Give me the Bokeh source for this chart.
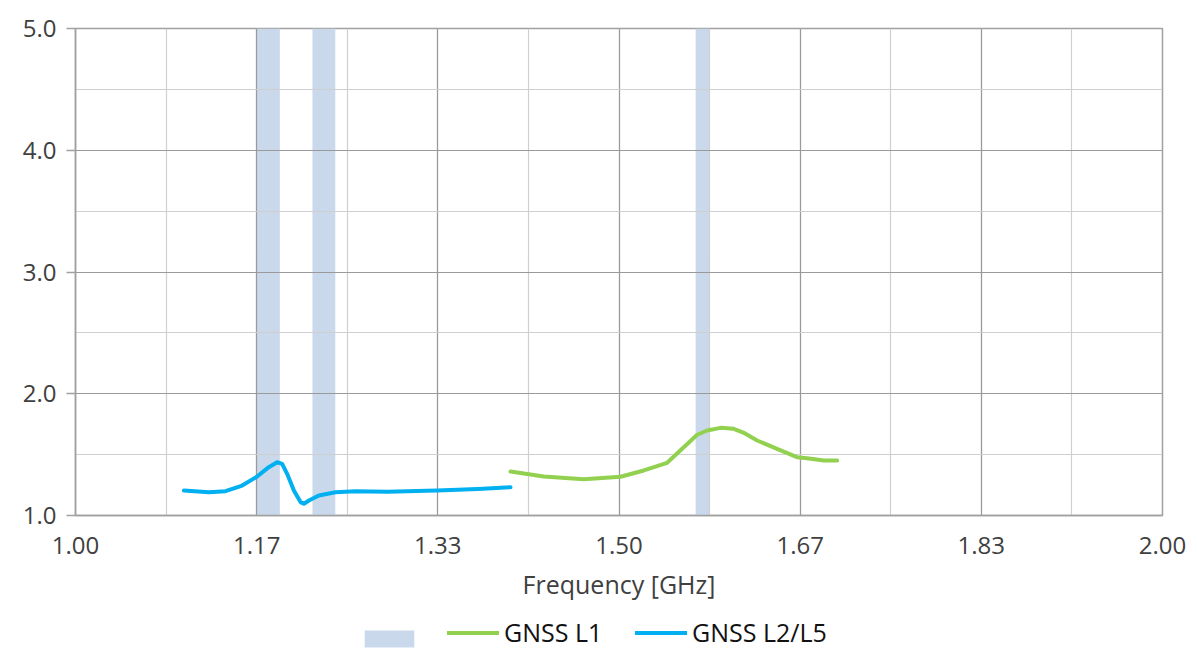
from bokeh.plotting import figure
from bokeh.layouts import column
from bokeh.models import Range1d, FixedTicker, Legend, LegendItem, ColumnDataSource
from bokeh.embed import file_html
from bokeh.resources import INLINE

# ---- data ----
band_left = [1.1665, 1.2180, 1.5705]
band_right = [1.1880, 1.2390, 1.5835]

l25_freq = [1.0997, 1.1227, 1.1380, 1.1533, 1.1671, 1.1778, 1.1855, 1.1901, 1.1947, 1.2009,
            1.2070, 1.2101, 1.2147, 1.2239, 1.2392, 1.2576, 1.2868, 1.3327, 1.3700, 1.4002]
l25_vswr = [1.205, 1.191, 1.200, 1.246, 1.320, 1.397, 1.438, 1.424, 1.342, 1.205,
            1.110, 1.096, 1.123, 1.164, 1.191, 1.200, 1.195, 1.205, 1.218, 1.233]

l1_freq = [1.4002, 1.4308, 1.4676, 1.5014, 1.5228, 1.5443, 1.5581, 1.5719, 1.5811, 1.5934,
           1.6056, 1.6148, 1.6271, 1.6454, 1.6638, 1.6730, 1.6884, 1.7007]
l1_vswr = [1.361, 1.320, 1.298, 1.318, 1.370, 1.433, 1.548, 1.663, 1.698, 1.720,
           1.712, 1.679, 1.616, 1.548, 1.479, 1.471, 1.452, 1.452]

x_ticks = [1.0, 7/6, 4/3, 1.5, 5/3, 11/6, 2.0]
x_tick_labels = ["1.00", "1.17", "1.33", "1.50", "1.67", "1.83", "2.00"]
x_minor = [1.0 + i / 12 for i in range(13)]
y_ticks = [1.0, 2.0, 3.0, 4.0, 5.0]
y_tick_labels = ["1.0", "2.0", "3.0", "4.0", "5.0"]
y_minor = [1.5, 2.5, 3.5, 4.5]

series_names = ["GNSS L1", "GNSS L2/L5"]
series_colors = ["#92d050", "#00b0f0"]
band_color = "#c9d9eb"

FONT = "Open Sans"
AXIS_GRAY = "#a0a0a0"
W = 1189

p = figure(width=W, height=609, output_backend="svg", toolbar_location=None,
           x_range=Range1d(1.0, 2.0), y_range=Range1d(1.0, 5.0),
           min_border_left=75, min_border_top=28, min_border_right=27, min_border_bottom=94)

p.outline_line_color = AXIS_GRAY
p.outline_line_width = 1.5

# bands
band_src = ColumnDataSource(dict(left=band_left, right=band_right,
                                 bottom=[1.0] * len(band_left), top=[5.0] * len(band_left)))
p.quad(left="left", right="right", bottom="bottom", top="top", source=band_src,
       fill_color=band_color, line_color=None, level="image")

p.line(l1_freq, l1_vswr, line_color=series_colors[0], line_width=4, line_cap="round", line_join="round")
p.line(l25_freq, l25_vswr, line_color=series_colors[1], line_width=4, line_cap="round", line_join="round")

# axes
p.xaxis.ticker = FixedTicker(ticks=x_ticks, minor_ticks=x_minor)
p.xaxis.major_label_overrides = {t: s for t, s in zip(x_ticks, x_tick_labels)}
p.yaxis.ticker = FixedTicker(ticks=y_ticks, minor_ticks=y_minor)
p.yaxis.major_label_overrides = {t: s for t, s in zip(y_ticks, y_tick_labels)}

for ax in (p.xaxis[0], p.yaxis[0]):
    ax.axis_line_color = AXIS_GRAY
    ax.axis_line_width = 1.5
    ax.major_tick_line_color = AXIS_GRAY
    ax.major_tick_line_width = 1.5
    ax.major_tick_in = 0
    ax.minor_tick_line_color = None
    ax.major_label_text_font = FONT
    ax.major_label_text_font_size = "24px"
    ax.major_label_text_color = "#404040"

p.xaxis.major_tick_out = 0
p.xaxis.major_label_standoff = 17
p.yaxis.major_tick_out = 9
p.yaxis.major_label_standoff = 10

p.xaxis.axis_label = "Frequency [GHz]"
p.xaxis.axis_label_text_font = FONT
p.xaxis.axis_label_text_font_size = "25px"
p.xaxis.axis_label_text_font_style = "normal"
p.xaxis.axis_label_text_color = "#404040"
p.xaxis.axis_label_standoff = 10

# grids
p.xgrid.ticker = FixedTicker(ticks=x_ticks, minor_ticks=x_minor)
p.ygrid.ticker = FixedTicker(ticks=y_ticks, minor_ticks=y_minor)
for g in (p.xgrid[0], p.ygrid[0]):
    g.grid_line_color = "#9a9a9a"
    g.grid_line_width = 1.2
    g.minor_grid_line_color = "#cfcfcf"
    g.minor_grid_line_width = 1.2

# legend strip (separate figure below the chart, with style-only renderers outside its range)
lg = figure(width=W, height=40, output_backend="svg", toolbar_location=None,
            x_range=Range1d(0, 1), y_range=Range1d(0, 1),
            x_axis_location=None, y_axis_location=None,
            min_border=0, outline_line_color=None)
lg.xgrid.visible = False
lg.ygrid.visible = False
r_band = lg.quad(left=[-5], right=[-4], bottom=[-5], top=[-4], fill_color=band_color, line_color=None)
r_l1 = lg.line(x=[-5, -4], y=[-5, -5], line_color=series_colors[0], line_width=4, line_cap="round")
r_l25 = lg.line(x=[-5, -4], y=[-5, -5], line_color=series_colors[1], line_width=4, line_cap="round")

common = dict(orientation="horizontal", label_standoff=5,
              label_height=17, padding=0, margin=0, border_line_color=None,
              background_fill_alpha=0, label_text_font=FONT, label_text_font_size="25px",
              label_text_color="#111111")
lg.add_layout(Legend(items=[LegendItem(label=" ", renderers=[r_band])], location=(283, 0),
                     glyph_width=62, glyph_height=21, **common), "center")
lg.add_layout(Legend(items=[LegendItem(label=series_names[0], renderers=[r_l1])], location=(372, 0),
                     glyph_width=52, glyph_height=17, **common), "center")
lg.add_layout(Legend(items=[LegendItem(label=series_names[1], renderers=[r_l25])], location=(560, 0),
                     glyph_width=52, glyph_height=17, **common), "center")

layout = column(p, lg, spacing=0)
open("out.html", "w").write(file_html(layout, INLINE))
